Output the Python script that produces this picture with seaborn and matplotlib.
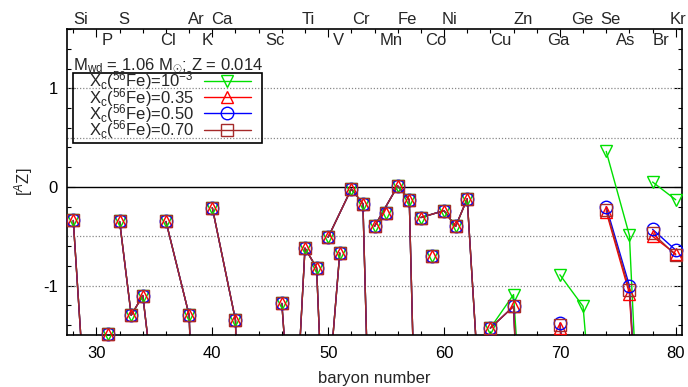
import matplotlib
matplotlib.use('Agg')
import matplotlib.pyplot as plt
import matplotlib.transforms as mtransforms
from matplotlib.lines import Line2D
from matplotlib.patches import Rectangle
from matplotlib.ticker import MultipleLocator
import seaborn as sns
import pandas as pd

# ---------------- data ----------------
# isotopes shared by all four models (mass number, element, log abundance)
light_A = [28, 29, 31, 32, 33, 34, 36, 36, 38, 40, 40, 42, 43,
           46, 47, 48, 49, 50, 50, 51, 50, 52, 53, 54, 55,
           54, 56, 57, 58, 59, 58, 60, 61, 62, 64]
light_el = ['Si', 'Si', 'P', 'S', 'S', 'S', 'S', 'Ar', 'Ar', 'Ar', 'Ca', 'Ca', 'Ca',
            'Ti', 'Ti', 'Ti', 'Ti', 'Ti', 'V', 'V', 'Cr', 'Cr', 'Cr', 'Cr', 'Mn',
            'Fe', 'Fe', 'Fe', 'Fe', 'Co', 'Ni', 'Ni', 'Ni', 'Ni', 'Ni']
light_y = [-0.34, -2.15, -1.49, -0.35, -1.30, -1.10, -3.1, -0.35, -1.30, -8.0,
           -0.21, -1.35, -7.0, -1.18, -2.8, -0.62, -0.82, -3.6, -2.1, -0.67,
           -0.51, -0.02, -0.17, -4.5, -0.26, -0.40, 0.01, -0.13, -4.7, -0.70,
           -0.31, -0.24, -0.40, -0.12, -3.9]

# heavier isotopes where the models differ
heavy_A = [64, 66, 67, 70, 72, 73, 74, 76, 77, 78, 80]
heavy_el = ['Zn', 'Zn', 'Zn', 'Ge', 'Ge', 'Ge', 'Se', 'Se', 'Se', 'Kr', 'Kr']
heavy_y_1e3 = [-1.43, -1.09, -2.9, -0.89, -1.21, -2.6, 0.36, -0.49, -3.0, 0.05, -0.13]
heavy_y_035 = [-1.43, -1.21, -3.9, -1.43, -3.5, -5.0, -0.25, -1.08, -3.0, -0.50, -0.68]
heavy_y_050 = [-1.43, -1.21, -3.9, -1.38, -3.5, -5.0, -0.20, -1.00, -3.0, -0.43, -0.64]
heavy_y_070 = [-1.43, -1.21, -3.9, -1.40, -3.5, -5.0, -0.23, -1.04, -3.0, -0.47, -0.69]

series_labels = [r'X$_\mathrm{c}$($^{56}$Fe)=10$^{-3}$',
                 r'X$_\mathrm{c}$($^{56}$Fe)=0.35',
                 r'X$_\mathrm{c}$($^{56}$Fe)=0.50',
                 r'X$_\mathrm{c}$($^{56}$Fe)=0.70']
series_heavy = [heavy_y_1e3, heavy_y_035, heavy_y_050, heavy_y_070]
series_colors = ['#00e000', '#ff0000', '#0000ff', '#a52a2a']
series_markers = ['v', '^', 'o', 's']

upper_labels = ['Si', 'S', 'Ar', 'Ca', 'Ti', 'Cr', 'Fe', 'Ni', 'Zn', 'Ge', 'Se', 'Kr']
upper_x = [28.6, 32.4, 38.6, 40.8, 48.3, 52.8, 56.8, 60.5, 66.8, 71.9, 74.4, 80.2]
lower_labels = ['P', 'Cl', 'K', 'Sc', 'V', 'Mn', 'Co', 'Cu', 'Ga', 'As', 'Br']
lower_x = [30.9, 36.2, 39.6, 45.4, 50.9, 55.4, 59.3, 64.9, 69.9, 75.7, 78.7]

title_text = r'M$_\mathrm{wd}$ = 1.06 M$_{\odot}$; Z = 0.014'

XLIM = (27.5, 80.5)
YLIM = (-1.5, 1.6)

# ---------------- style ----------------
sns.set_theme(style='ticks')
plt.rcParams['font.family'] = ['Liberation Sans', 'DejaVu Sans']
plt.rcParams['mathtext.fontset'] = 'custom'
plt.rcParams['mathtext.rm'] = 'Liberation Sans'
plt.rcParams['mathtext.it'] = 'Liberation Sans:italic'
plt.rcParams['mathtext.bf'] = 'Liberation Sans:bold'
plt.rcParams['axes.unicode_minus'] = False

fig = plt.figure(figsize=(6.88, 3.87), dpi=100)
ax = fig.add_axes([0.0981, 0.1344, 0.8925, 0.7906])

# reference lines
for yv in (-1.0, -0.5, 0.5, 1.0):
    ax.axhline(yv, color='#888888', lw=0.9, ls=(0, (1, 1.5)), zorder=1)
ax.axhline(0, color='black', lw=1.0, zorder=1)

for lab, hv, col, mk in zip(series_labels, series_heavy, series_colors, series_markers):
    df = pd.DataFrame({'A': light_A + heavy_A,
                       'element': light_el + heavy_el,
                       'y': light_y + hv})
    sns.lineplot(data=df, x='A', y='y', units='element', estimator=None,
                 color=col, linewidth=1.0, ax=ax, legend=False, sort=True,
                 zorder=2)
    inside = df[(df['y'] >= YLIM[0] - 0.02) & (df['y'] <= YLIM[1])]
    sns.lineplot(data=inside, x='A', y='y', units='element', estimator=None,
                 color=col, linestyle='none', marker=mk, markersize=9,
                 markerfacecolor='none', markeredgecolor=col,
                 markeredgewidth=1.0, ax=ax, legend=False, clip_on=False,
                 zorder=3)

ax.set_xlim(*XLIM)
ax.set_ylim(*YLIM)
ax.xaxis.set_major_locator(MultipleLocator(10))
ax.xaxis.set_minor_locator(MultipleLocator(2))
ax.yaxis.set_major_locator(MultipleLocator(1))
ax.yaxis.set_minor_locator(MultipleLocator(0.2))
ax.tick_params(which='both', direction='in', top=True, right=True,
               labelsize=12, colors='black')
ax.tick_params(which='major', length=6, width=0.8)
ax.tick_params(which='minor', length=3, width=0.8)
ax.tick_params(axis='x', which='major', pad=8)
ax.tick_params(axis='y', which='major', pad=7)
for sp in ax.spines.values():
    sp.set_color('black')
    sp.set_linewidth(1.2)

ax.set_xlabel('baryon number', fontsize=12, labelpad=7)
ax.set_ylabel(r'[$^{A}$Z]', fontsize=12, labelpad=6)

# element labels on top
trans = mtransforms.blended_transform_factory(ax.transData, ax.transAxes)
for lab, xv in zip(upper_labels, upper_x):
    ax.text(xv, 1.030, lab, transform=trans, ha='center', va='center',
            fontsize=12, clip_on=False)
for lab, xv in zip(lower_labels, lower_x):
    ax.text(xv, 0.962, lab, transform=trans, ha='center', va='center',
            fontsize=12, clip_on=False)

ax.text(0.009, 0.880, title_text, transform=ax.transAxes, ha='left',
        va='center', fontsize=12)

handles = [Line2D([], [], color=c, marker=m, markersize=9, markerfacecolor='none',
                  markeredgecolor=c, markeredgewidth=1.0, lw=1.0)
           for c, m in zip(series_colors, series_markers)]
leg = ax.legend(handles, series_labels, loc='upper left',
                bbox_to_anchor=(0.035, 0.868), markerfirst=False, fontsize=12,
                handlelength=2.8, handletextpad=0.6, labelspacing=-0.4,
                borderpad=0.0, borderaxespad=0.0, frameon=False)

# key box (transparent, black edge), in axes fraction coordinates
ax.add_patch(Rectangle((0.009, 0.627), 0.308, 0.229, transform=ax.transAxes,
                       fill=False, edgecolor='black', lw=1.2, zorder=4,
                       clip_on=False))

fig.savefig('out.png', dpi=100)
